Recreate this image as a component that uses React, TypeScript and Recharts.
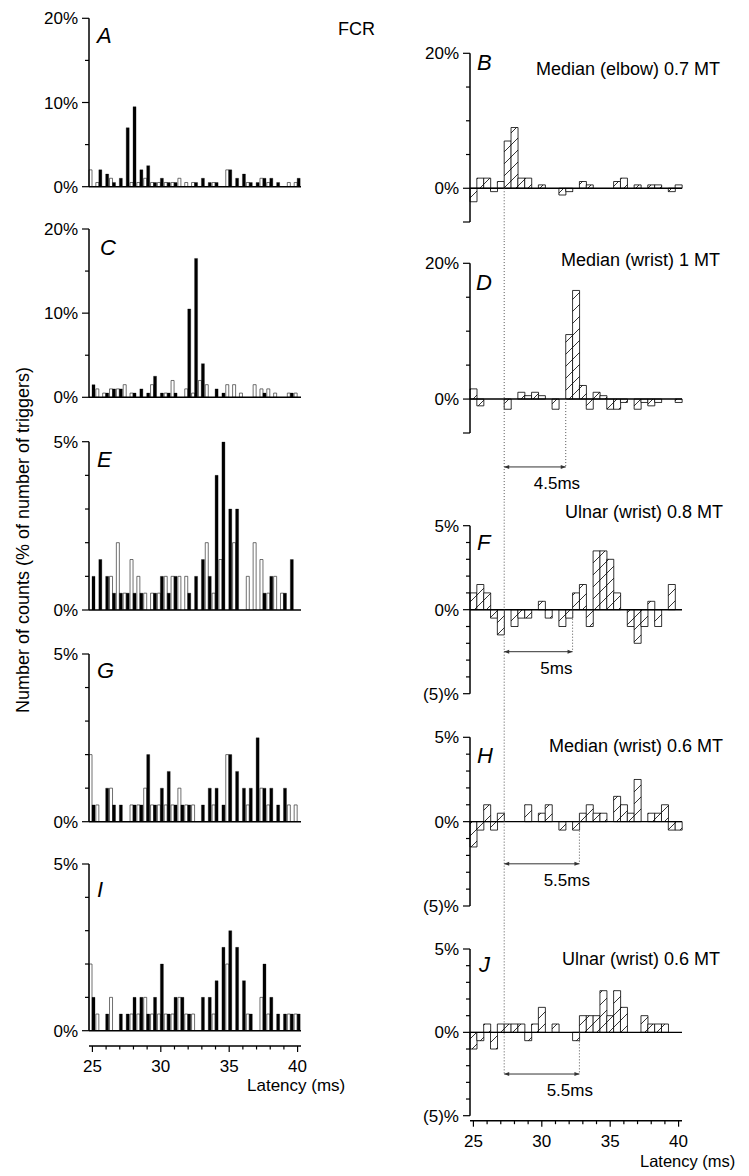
import React from 'react';
import { BarChart, Bar, XAxis, YAxis, ReferenceLine } from 'recharts';

const FONT = '"Liberation Sans", Arial, Helvetica, sans-serif';

// latency bins (ms), 0.5 ms wide, centred on these values
const latency = [25, 25.5, 26, 26.5, 27, 27.5, 28, 28.5, 29, 29.5, 30, 30.5, 31, 31.5, 32, 32.5, 33, 33.5, 34, 34.5, 35, 35.5, 36, 36.5, 37, 37.5, 38, 38.5, 39, 39.5, 40];
const latencyLabels = [25, 30, 35, 40];

// Left column: control (white) and conditioned (black) histograms, % of triggers
const controlA = [2, 0.5, 0, 1, 0, 0, 0.5, 0.5, 1, 0.5, 0.5, 0.5, 0.5, 1, 0.5, 0.5, 0, 0, 0.5, 0, 2, 0, 0, 0.5, 0, 1, 0.5, 0, 0, 0.5, 0.5];
const conditionedA = [0, 2, 1.5, 0.5, 1, 7, 9.5, 2, 2.5, 0.5, 1, 0.5, 0.5, 0, 0, 0.5, 1, 0.5, 0.5, 0, 2, 1, 1.5, 0.5, 0.5, 1, 1, 0.5, 0, 0, 1];
const controlC = [0, 1, 0.5, 1, 1, 1.5, 0.5, 0, 0, 1.5, 0, 0.5, 2, 0, 1, 0.5, 2, 1.5, 0, 0, 1.5, 1.5, 0.5, 0, 1.5, 1, 1, 0.5, 0, 0.5, 0.5];
const conditionedC = [1.5, 0, 0.5, 1, 1, 0, 0.5, 1, 0.5, 2.5, 0.5, 0.5, 0.5, 0, 10.5, 16.5, 4, 0, 1, 0.5, 0, 0, 0, 0, 0, 0.5, 0, 0, 0, 0.5, 0];
const controlE = [0, 0, 0, 1, 2, 0.5, 1.5, 1, 0.5, 0.5, 0.5, 1, 1, 1, 1, 0, 0, 2, 0.5, 1.5, 0, 2, 0, 1, 2, 1.5, 0.5, 1, 0.5, 0, 0];
const conditionedE = [1, 1.5, 1, 0.5, 0.5, 0.5, 0.5, 0.5, 0, 0.5, 1, 0.5, 1, 0, 0.5, 1, 1.5, 1, 4, 5, 3, 3, 0, 0, 0, 0.5, 1, 0, 0.5, 1.5, 0];
const controlG = [2, 0.5, 0, 1, 0, 0, 0.5, 0.5, 1, 0.5, 0.5, 0.5, 0.5, 1, 0.5, 0.5, 0, 0, 0.5, 0, 2, 0, 0, 0.5, 0, 1, 0.5, 0, 0, 0.5, 0.5];
const conditionedG = [0.5, 0, 1, 0.5, 0.5, 0, 0.5, 0.5, 2, 0.5, 1, 1.5, 0.5, 0.5, 0.5, 0, 0.5, 1, 1, 0.5, 2, 1.5, 1, 1, 2.5, 1, 1, 0.5, 1, 0, 0];
const controlI = [2, 0.5, 0, 1, 0, 0, 0.5, 0.5, 1, 0.5, 0.5, 0.5, 0.5, 1, 0.5, 0.5, 0, 0, 0.5, 0, 2, 0, 0, 0.5, 0, 1, 0.5, 0, 0, 0.5, 0.5];
const conditionedI = [1, 0, 0.5, 0, 0.5, 0.5, 1, 1, 0.5, 1, 2, 0.5, 1, 1, 0.5, 0, 1, 1, 1.5, 2.5, 3, 2.5, 1.5, 0.5, 0, 2, 1, 0.5, 0.5, 0.5, 0.5];

// Right column: difference histograms (hatched)
const differenceB = [-2, 1.5, 1.5, -0.5, 1, 7, 9, 1.5, 1.5, 0, 0.5, 0, 0, -1, -0.5, 0, 1, 0.5, 0, 0, 0, 1, 1.5, 0, 0.5, 0, 0.5, 0.5, 0, -0.5, 0.5];
const differenceD = [1.5, -1, 0, 0, 0, -1.5, 0, 1, 0.5, 1, 0.5, 0, -1.5, 0, 9.5, 16, 2, -1.5, 1, 0.5, -1.5, -1.5, -0.5, 0, -1.5, -0.5, -1, -0.5, 0, 0, -0.5];
const differenceF = [1, 1.5, 1, -0.5, -1.5, 0, -1, -0.5, -0.5, 0, 0.5, -0.5, 0, -1, -0.5, 1, 1.5, -1, 3.5, 3.5, 3, 1, 0, -1, -2, -1, 0.5, -1, 0, 1.5, 0];
const differenceH = [-1.5, -0.5, 1, -0.5, 0.5, 0, 0, 0, 1, 0, 0.5, 1, 0, -0.5, 0, -0.5, 0.5, 1, 0.5, 0.5, 0, 1.5, 1, 0.5, 2.5, 0, 0.5, 0.5, 1, -0.5, -0.5];
const differenceJ = [-1, -0.5, 0.5, -1, 0.5, 0.5, 0.5, 0.5, -0.5, 0.5, 1.5, 0, 0.5, 0, 0, -0.5, 1, 1, 1, 2.5, 1, 2.5, 1.5, 0, 0, 1, 0.5, 0.5, 0.5, 0, 0];

// Latency annotations (ms, at bin edges)
const onsetLatency = 27.25;
const markEnds: Record<string, number> = { D: 31.75, F: 32.25, H: 32.75, J: 32.75 };
const markLabels: Record<string, string> = { D: '4.5ms', F: '5ms', H: '5.5ms', J: '5.5ms' };
const markLevels: Record<string, number> = { D: -10, F: -2.5, H: -2.5, J: -2.5 };

const conditionLabels: Record<string, string> = {
  B: 'Median (elbow) 0.7 MT',
  D: 'Median (wrist) 1 MT',
  F: 'Ulnar (wrist) 0.8 MT',
  H: 'Median (wrist) 0.6 MT',
  J: 'Ulnar (wrist) 0.6 MT',
};

// a bin edge expressed as the category whose left edge it is
const edgeBin = (edge: number) => String(edge + 0.25);

const fmtPct = (v: number) => (v < 0 ? `(${-v})%` : `${v}%`);

const makeYTick = (labeled: number[], ends: number[]) => (props: any) => {
  const { x, y, payload } = props;
  const v = payload.value;
  const lab = labeled.includes(v);
  const major = lab || ends.includes(v);
  return (
    <g>
      <line x1={x} y1={y} x2={x - (major ? 7 : 4)} y2={y} stroke="#000" strokeWidth={1.2} />
      {lab ? (
        <text x={x - 11} y={y} dy="0.36em" textAnchor="end" fontSize={17} fontFamily={FONT} fill="#000">
          {fmtPct(v)}
        </text>
      ) : null}
    </g>
  );
};

const xTick = (props: any) => {
  const { x, y, payload } = props;
  const v = Number(payload.value);
  if (!Number.isInteger(v)) return <g />;
  const major = latencyLabels.includes(v);
  return (
    <g>
      <line x1={x} y1={y} x2={x} y2={y + (major ? 6 : 3.5)} stroke="#000" strokeWidth={1.2} />
      {major ? (
        <text x={x} y={y + 26} textAnchor="middle" fontSize={17} fontFamily={FONT} fill="#000">
          {v}
        </text>
      ) : null}
    </g>
  );
};

const arrowShape = (label: string, shift: number) => (props: any) => {
  const x1 = Number(props.x1);
  const x2 = Number(props.x2);
  const y = Number(props.y1);
  const h = 5;
  const w = 2;
  return (
    <g>
      <line x1={x1} y1={y} x2={x2} y2={y} stroke="#333" strokeWidth={1} />
      <path d={`M${x1},${y} L${x1 + h},${y - w} L${x1 + h},${y + w} Z`} fill="#333" />
      <path d={`M${x2},${y} L${x2 - h},${y - w} L${x2 - h},${y + w} Z`} fill="#333" />
      <text x={(x1 + x2) / 2 + shift} y={y + 22} textAnchor="middle" fontSize={17} fontFamily={FONT} fill="#000">
        {label}
      </text>
    </g>
  );
};

const leftPanels = [
  { id: 'A', control: controlA, conditioned: conditionedA, domain: [0, 20], ticks: [0, 5, 10, 15, 20], labels: [0, 10, 20], top: 0, height: 210, mTop: 18.3, mBottom: 23.3, axis: false },
  { id: 'C', control: controlC, conditioned: conditionedC, domain: [0, 20], ticks: [0, 5, 10, 15, 20], labels: [0, 10, 20], top: 212, height: 200, mTop: 17, mBottom: 14.7, axis: false },
  { id: 'E', control: controlE, conditioned: conditionedE, domain: [0, 5], ticks: [0, 1, 2, 3, 4, 5], labels: [0, 5], top: 425, height: 195, mTop: 16.7, mBottom: 10, axis: false },
  { id: 'G', control: controlG, conditioned: conditionedG, domain: [0, 5], ticks: [0, 1, 2, 3, 4, 5], labels: [0, 5], top: 635, height: 200, mTop: 19, mBottom: 13.3, axis: false },
  { id: 'I', control: controlI, conditioned: conditionedI, domain: [0, 5], ticks: [0, 1, 2, 3, 4, 5], labels: [0, 5], top: 845, height: 260, mTop: 19, mBottom: 29, axis: true },
];

const rightPanels = [
  { id: 'B', diff: differenceB, domain: [-5, 20], ticks: [-5, 0, 5, 10, 15, 20], labels: [0, 20], top: 0, height: 240, mTop: 53.3, mBottom: 18, axis: false, line: [0, -1000] },
  { id: 'D', diff: differenceD, domain: [-5, 20], ticks: [-5, 0, 5, 10, 15, 20], labels: [0, 20], top: 240, height: 260, mTop: 23.3, mBottom: 67, axis: false, line: [1000, -1000] },
  { id: 'F', diff: differenceF, domain: [-5, 5], ticks: [-5, -4, -3, -2, -1, 0, 1, 2, 3, 4, 5], labels: [-5, 0, 5], top: 500, height: 210, mTop: 25.7, mBottom: 16.3, axis: false, line: [1000, -1000] },
  { id: 'H', diff: differenceH, domain: [-5, 5], ticks: [-5, -4, -3, -2, -1, 0, 1, 2, 3, 4, 5], labels: [-5, 0, 5], top: 710, height: 215, mTop: 27.3, mBottom: 19, axis: false, line: [1000, -1000] },
  { id: 'J', diff: differenceJ, domain: [-5, 5], ticks: [-5, -4, -3, -2, -1, 0, 1, 2, 3, 4, 5], labels: [-5, 0, 5], top: 925, height: 251, mTop: 24, mBottom: 25.3, axis: true, line: [1000, -2.5] },
];

const labelShift: Record<string, number> = { D: 22, F: 18, H: 25, J: 28 };

function LeftPanel({ p }: { p: any }) {
  const data = latency.map((lat, i) => ({ lat: String(lat), control: p.control[i], conditioned: p.conditioned[i] }));
  return (
    <div style={{ position: 'absolute', left: 0, top: p.top, width: 380, height: p.height, overflow: 'hidden' }}>
      <BarChart width={380} height={p.height} data={data} margin={{ top: p.mTop, right: 79, bottom: p.mBottom, left: 0 }} barCategoryGap={0} barGap={0}>
        <XAxis xAxisId="cat" dataKey="lat" type="category" hide={!p.axis} height={15.3} axisLine={false} tickLine={false} tick={false} />
        {p.axis ? (
          <XAxis xAxisId="scale" dataKey="lat" type="category" interval={0} height={30} tickSize={0} tickMargin={0} tickLine={false} tick={xTick} axisLine={{ stroke: '#000', strokeWidth: 1.5 }} />
        ) : null}
        <YAxis yAxisId={0} width={89} domain={p.domain} ticks={p.ticks} allowDataOverflow interval={0} tickSize={0} tickMargin={0} tickLine={false} tick={makeYTick(p.labels, p.domain)} axisLine={{ stroke: '#000', strokeWidth: 1.5 }} />
        <Bar xAxisId="cat" dataKey="control" fill="#fff" stroke="#333" strokeWidth={0.7} isAnimationActive={false} />
        <Bar xAxisId="cat" dataKey="conditioned" fill="#000" stroke="#000" strokeWidth={0.3} isAnimationActive={false} />
        <ReferenceLine xAxisId="cat" y={0} stroke="#000" strokeWidth={1.4} />
      </BarChart>
    </div>
  );
}

function RightPanel({ p }: { p: any }) {
  const data = latency.map((lat, i) => ({ lat: String(lat), diff: p.diff[i] }));
  const id = p.id as string;
  const hasMark = markEnds[id] !== undefined;
  return (
    <div style={{ position: 'absolute', left: 380, top: p.top, width: 369, height: p.height, overflow: 'hidden' }}>
      <BarChart width={369} height={p.height} data={data} margin={{ top: p.mTop, right: 67, bottom: p.mBottom, left: 0 }} barCategoryGap={0} barGap={0}>
        <XAxis xAxisId="cat" dataKey="lat" type="category" hide={!p.axis} height={5} axisLine={false} tickLine={false} tick={false} />
        {p.axis ? (
          <XAxis xAxisId="scale" dataKey="lat" type="category" interval={0} height={30} tickSize={0} tickMargin={0} tickLine={false} tick={xTick} axisLine={{ stroke: '#000', strokeWidth: 1.5 }} />
        ) : null}
        <YAxis yAxisId={0} width={90} domain={p.domain} ticks={p.ticks} allowDataOverflow interval={0} tickSize={0} tickMargin={0} tickLine={false} tick={makeYTick(p.labels, p.domain)} axisLine={{ stroke: '#000', strokeWidth: 1.5 }} />
        <Bar xAxisId="cat" dataKey="diff" fill="url(#hatch)" stroke="#000" strokeWidth={0.8} isAnimationActive={false} />
        <ReferenceLine xAxisId="cat" y={0} stroke="#000" strokeWidth={1.4} />
        <ReferenceLine xAxisId="cat" position="start" segment={[{ x: edgeBin(onsetLatency), y: p.line[0] }, { x: edgeBin(onsetLatency), y: p.line[1] }]} ifOverflow="visible" stroke="#555" strokeWidth={1} strokeDasharray="1 2" />
        {hasMark ? (
          <ReferenceLine xAxisId="cat" position="start" segment={[{ x: edgeBin(markEnds[id]), y: 0 }, { x: edgeBin(markEnds[id]), y: markLevels[id] }]} ifOverflow="visible" stroke="#555" strokeWidth={1} strokeDasharray="1 2" />
        ) : null}
        {hasMark ? (
          <ReferenceLine xAxisId="cat" position="start" segment={[{ x: edgeBin(onsetLatency), y: markLevels[id] }, { x: edgeBin(markEnds[id]), y: markLevels[id] }]} ifOverflow="visible" shape={arrowShape(markLabels[id], labelShift[id])} />
        ) : null}
      </BarChart>
    </div>
  );
}

const letterPos: Record<string, [number, number]> = {
  A: [97, 43], B: [477, 70], C: [100, 255], D: [476, 290], E: [97, 467],
  F: [477, 550], G: [97, 678], H: [477, 763], I: [97, 897], J: [479, 972],
};
const conditionPos: Record<string, [number, number]> = {
  B: [720, 74.5], D: [720, 266], F: [723, 518], H: [723, 752], J: [720, 965],
};

export default function App() {
  return (
    <div style={{ position: 'absolute', left: 0, top: 0, width: 749, height: 1176, background: '#fff', overflow: 'hidden' }}>
      <svg width={0} height={0} style={{ position: 'absolute' }}>
        <defs>
          <pattern id="hatch" patternUnits="userSpaceOnUse" width={12} height={12}>
            <rect width={12} height={12} fill="#fff" />
            <path d="M0,12 L12,0 M-3,3 L3,-3 M9,15 L15,9" stroke="#000" strokeWidth={0.8} />
          </pattern>
        </defs>
      </svg>
      {leftPanels.map((p) => (
        <LeftPanel key={p.id} p={p} />
      ))}
      {rightPanels.map((p) => (
        <RightPanel key={p.id} p={p} />
      ))}
      <svg width={749} height={1176} style={{ position: 'absolute', left: 0, top: 0, pointerEvents: 'none' }}>
        <text x={338} y={34.5} fontSize={18} fontFamily={FONT} fill="#000">FCR</text>
        {Object.entries(letterPos).map(([k, [x, y]]) => (
          <text key={k} x={x} y={y} fontSize={22} fontStyle="italic" fontFamily={FONT} fill="#000">{k}</text>
        ))}
        {Object.entries(conditionPos).map(([k, [x, y]]) => (
          <text key={k} x={x} y={y} fontSize={18} textAnchor="end" fontFamily={FONT} fill="#000">{conditionLabels[k]}</text>
        ))}
        <text x={23} y={540} fontSize={18} textAnchor="middle" dominantBaseline="central" fontFamily={FONT} fill="#000" transform="rotate(-90 23 540)">
          Number of counts (% of number of triggers)
        </text>
        <text x={247} y={1091} fontSize={17} fontFamily={FONT} fill="#000">Latency (ms)</text>
        <text x={640} y={1167} fontSize={16.5} fontFamily={FONT} fill="#000">Latency (ms)</text>
      </svg>
    </div>
  );
}
